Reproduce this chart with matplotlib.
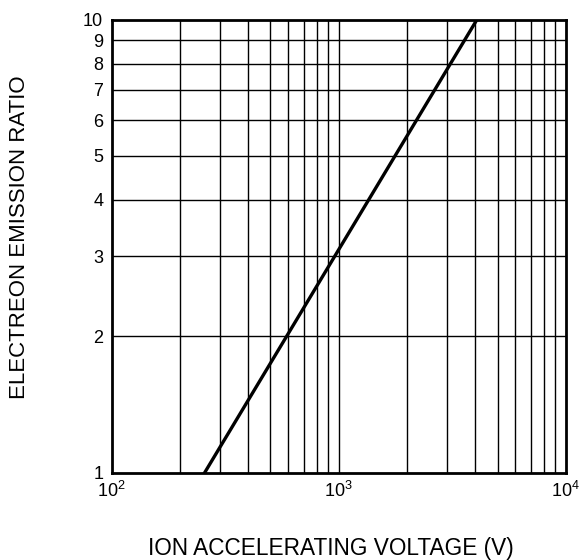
import matplotlib
matplotlib.use("Agg")
import matplotlib.pyplot as plt
from matplotlib.ticker import FixedLocator, NullLocator

plt.rcParams['font.family'] = ['Liberation Sans', 'DejaVu Sans']
plt.rcParams['mathtext.fontset'] = 'custom'
plt.rcParams['mathtext.rm'] = 'Liberation Sans'

# data
voltage = [257, 4060]
ratio = [1, 10]

x_grid = [200, 300, 400, 500, 600, 700, 800, 900, 1000,
          2000, 3000, 4000, 5000, 6000, 7000, 8000, 9000]
x_ticks = [100, 1000, 10000]
x_labels = ['$\\mathregular{10^{2}}$', '$\\mathregular{10^{3}}$', '$\\mathregular{10^{4}}$']
y_ticks = [1, 2, 3, 4, 5, 6, 7, 8, 9, 10]

fig = plt.figure(figsize=(5.81, 5.60), dpi=100)
ax = fig.add_axes([0.192, 0.156, 0.782, 0.809])

ax.set_xscale('log')
ax.set_yscale('log')
ax.set_xlim(100, 10000)
ax.set_ylim(1, 10)

# grid lines
for gx in x_grid:
    ax.axvline(gx, color='black', lw=1.0, zorder=1)
for gy in y_ticks[1:-1]:
    ax.axhline(gy, color='black', lw=1.0, zorder=1)

ax.plot(voltage, ratio, color='black', lw=2.4, zorder=3)

ax.xaxis.set_major_locator(FixedLocator(x_ticks))
ax.xaxis.set_minor_locator(NullLocator())
ax.set_xticklabels(x_labels)
ax.yaxis.set_major_locator(FixedLocator(y_ticks))
ax.yaxis.set_minor_locator(NullLocator())
ax.set_yticklabels([str(v) for v in y_ticks])
ax.tick_params(axis='both', length=0, labelsize=13)
ax.tick_params(axis='x', pad=6)
ax.tick_params(axis='y', pad=6)

for s in ax.spines.values():
    s.set_linewidth(2.0)

fig.text(0.034, 0.576, 'ELECTREON EMISSION RATIO', rotation=90,
         ha='center', va='center', fontsize=16)
fig.text(0.569, 0.021, 'ION ACCELERATING VOLTAGE (V)',
         ha='center', va='center', fontsize=16.3)

fig.savefig('out.png', dpi=100)
